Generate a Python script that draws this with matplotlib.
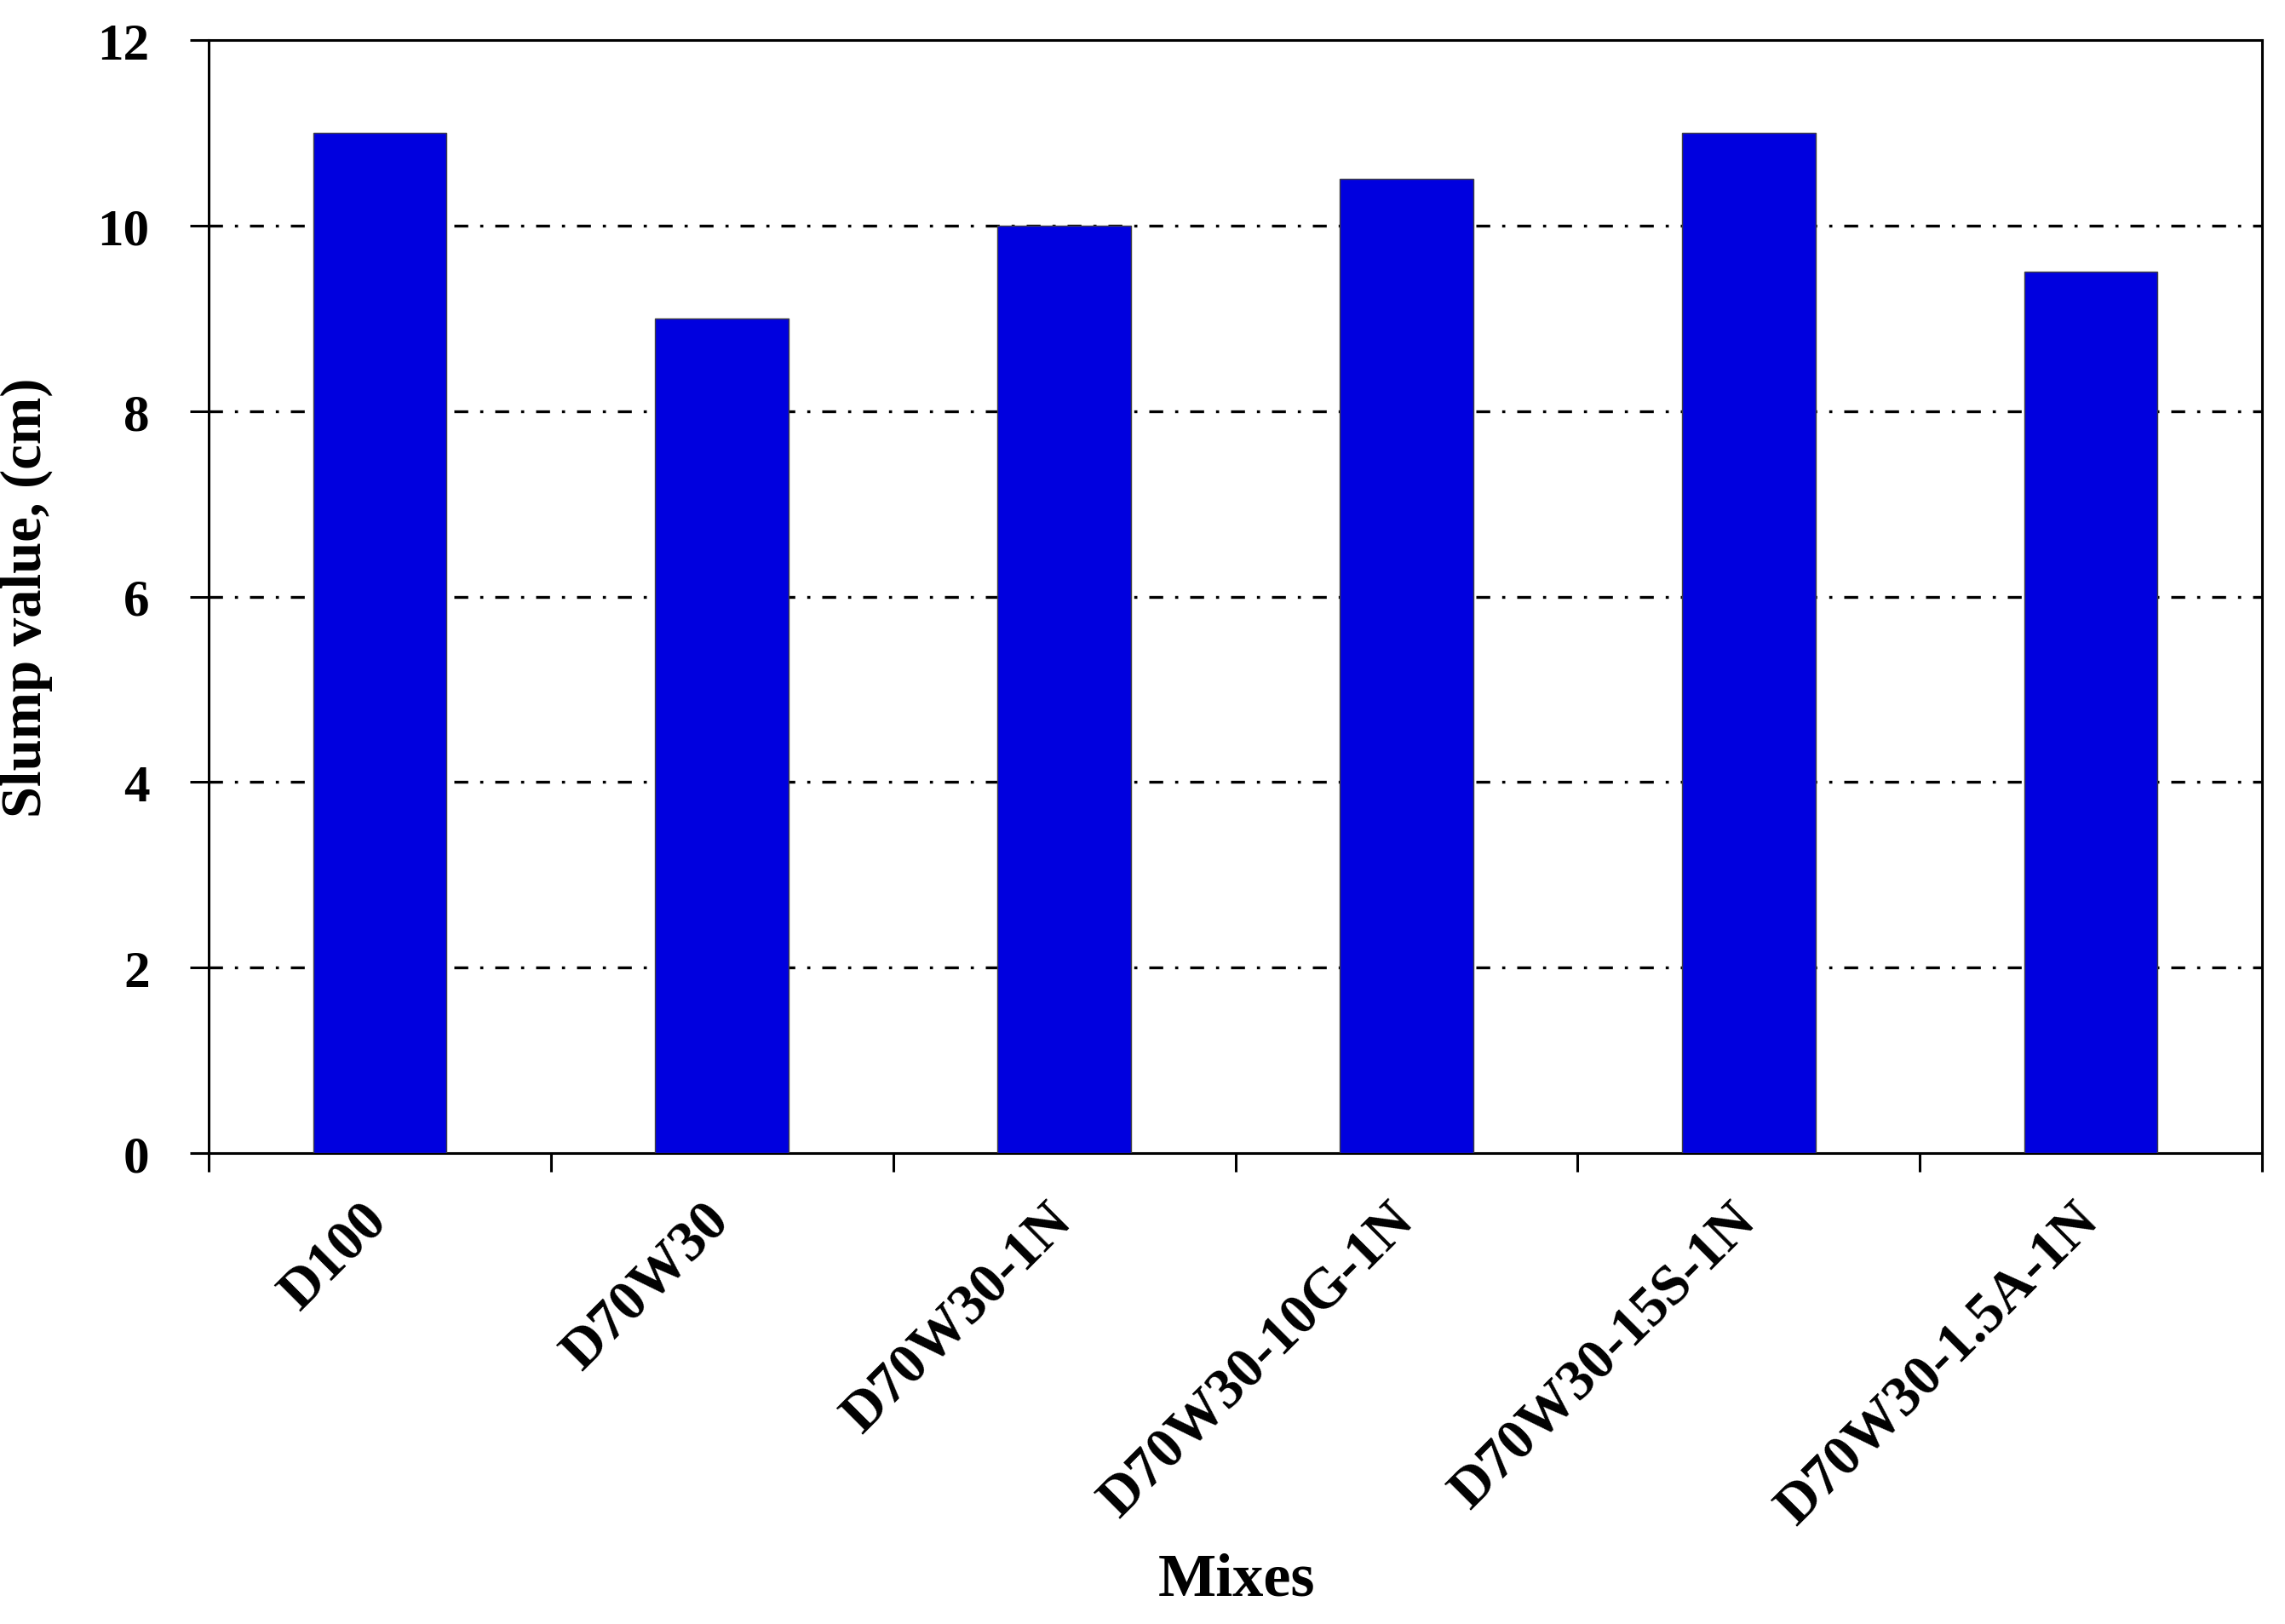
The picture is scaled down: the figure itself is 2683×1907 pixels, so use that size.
import matplotlib
matplotlib.use("Agg")
import matplotlib.pyplot as plt
import numpy as np

categories = ["D100", "D70W30", "D70W30-1N", "D70W30-10G-1N", "D70W30-15S-1N", "D70W30-1.5A-1N"]
slump = [11, 9, 10, 10.5, 11, 9.5]
yticks = [0, 2, 4, 6, 8, 10, 12]

plt.rcParams['font.family'] = ['Liberation Serif', 'DejaVu Serif']
plt.rcParams['font.weight'] = 'bold'

fig = plt.figure(figsize=(26.83, 19.08), dpi=100)
ax = fig.add_axes([245/2683, 1-1355/1908, (2656-245)/2683, (1355-48)/1908])

x = np.arange(len(categories))
ax.bar(x, slump, width=0.39, color='#0000DF', edgecolor='#404040', linewidth=1.0, zorder=3)

ax.set_xlim(-0.5, len(categories)-0.5)
ax.set_ylim(0, 12)
ax.set_yticks(yticks)
ax.set_yticklabels([str(v) for v in yticks], fontsize=44, fontweight='bold')

# grid lines (dash-dot), only interior ones
for v in yticks[1:-1]:
    ax.axhline(v, color='black', linewidth=2.4, linestyle=(0, (4.9, 4.2, 1.1, 4.2)), zorder=1)

ax.set_xticks(x)
ax.set_xticklabels(categories, rotation=45, ha='right', va='center', rotation_mode='anchor',
                   fontsize=48, fontweight='bold')
ax.tick_params(axis='x', which='major', length=0, pad=50)
ax.set_xticks(np.arange(-0.5, len(categories)), minor=True)
ax.tick_params(axis='x', which='minor', length=16, width=2.2, direction='out')
ax.tick_params(axis='y', which='major', length=16, width=2.2, direction='out', pad=34)

for s in ax.spines.values():
    s.set_linewidth(2.2)

ax.set_ylabel("Slump value, (cm)", fontsize=48, fontweight='bold')
ax.yaxis.set_label_coords(-(245-62)/(2656-245), 0.5)
fig.text(1452/2683, 1-1856/1908, "Mixes", fontsize=52, fontweight='bold', ha='center', va='center')

fig.savefig("out.png", dpi=100, facecolor='white')
